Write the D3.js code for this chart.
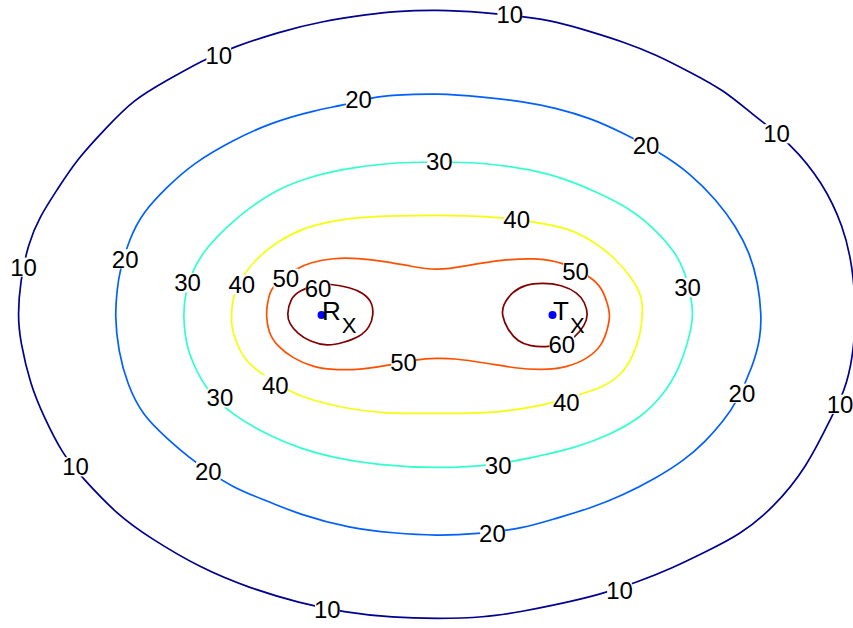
<!DOCTYPE html>
<html>
<head>
<meta charset="utf-8">
<script src="https://cdn.jsdelivr.net/npm/d3@7"></script>
<style>
  html, body { margin: 0; padding: 0; background: #ffffff; }
  svg { display: block; }
</style>
</head>
<body>
<div id="chart"></div>
<script>
// ---- Data (units: distance, Rx at -1, Tx at +1) ----
const levels = [10, 20, 30, 40, 50, 60];

const contour10 = [
  [-3.63,0.00],[-3.61,0.35],[-3.54,0.78],[-3.44,1.07],[-3.29,1.36],[-3.12,1.69],[-2.86,2.04],
  [-2.63,2.34],[-2.34,2.55],[-2.03,2.77],[-1.77,2.91],[-1.36,3.08],[-1.01,3.19],[-0.58,3.27],
  [-0.38,3.30],[0.00,3.32],[0.40,3.29],[0.77,3.24],[1.03,3.19],[1.33,3.08],[1.61,2.97],
  [1.90,2.83],[2.19,2.64],[2.48,2.45],[2.76,2.15],[3.06,1.87],[3.34,1.44],[3.52,0.96],
  [3.60,0.52],[3.63,0.00],[3.60,-0.47],[3.53,-0.83],[3.41,-1.12],[3.20,-1.66],[2.91,-2.10],
  [2.62,-2.39],[2.33,-2.57],[2.04,-2.75],[1.72,-2.91],[1.41,-3.04],[1.03,-3.15],[0.75,-3.22],
  [0.40,-3.29],[0.00,-3.30],[-0.38,-3.29],[-0.81,-3.23],[-1.19,-3.13],[-1.62,-2.97],
  [-2.05,-2.75],[-2.49,-2.42],[-2.77,-2.17],[-3.07,-1.77],[-3.24,-1.52],[-3.41,-1.09],
  [-3.52,-0.76],[-3.61,-0.28]
];
const contour20 = [
  [-2.79,0.00],[-2.77,0.27],[-2.75,0.47],[-2.66,0.84],[-2.55,1.11],[-2.34,1.39],[-2.11,1.65],
  [-1.77,1.90],[-1.42,2.10],[-1.04,2.23],[-0.81,2.28],[-0.55,2.37],[-0.38,2.39],[0.00,2.41],
  [0.40,2.37],[0.75,2.32],[1.03,2.25],[1.33,2.14],[1.61,1.98],[1.94,1.76],[2.19,1.54],
  [2.42,1.25],[2.59,0.96],[2.71,0.67],[2.78,0.35],[2.81,0.00],[2.80,-0.25],[2.74,-0.54],
  [2.59,-0.96],[2.48,-1.15],[2.33,-1.37],[2.13,-1.59],[1.90,-1.77],[1.61,-1.96],[1.33,-2.10],
  [1.03,-2.21],[0.75,-2.32],[0.34,-2.38],[0.00,-2.40],[-0.38,-2.37],[-0.75,-2.32],[-1.19,-2.17],
  [-1.47,-2.02],[-1.77,-1.88],[-2.11,-1.59],[-2.34,-1.34],[-2.55,-1.09],[-2.68,-0.76],[-2.76,-0.39]
];
const contour30 = [
  [-2.20,0.00],[-2.18,0.24],[-2.11,0.51],[-1.99,0.74],[-1.82,0.96],[-1.62,1.17],[-1.39,1.36],
  [-1.13,1.49],[-0.84,1.58],[-0.47,1.65],[0.00,1.67],[0.46,1.65],[0.81,1.58],[1.09,1.49],
  [1.38,1.34],[1.67,1.16],[1.90,0.92],[2.07,0.67],[2.15,0.46],[2.20,0.19],[2.22,0.00],
  [2.19,-0.22],[2.10,-0.58],[1.96,-0.87],[1.76,-1.12],[1.50,-1.30],[1.18,-1.45],[0.89,-1.53],
  [0.53,-1.63],[0.00,-1.67],[-0.52,-1.63],[-0.90,-1.55],[-1.19,-1.45],[-1.47,-1.30],
  [-1.77,-1.09],[-1.99,-0.82],[-2.08,-0.61],[-2.17,-0.36]
];
const contour40 = [
  [-1.78,0.00],[-1.77,0.22],[-1.65,0.49],[-1.53,0.65],[-1.39,0.79],[-1.16,0.95],[-0.87,1.03],
  [-0.64,1.07],[0.00,1.09],[0.50,1.07],[0.85,1.01],[1.13,0.95],[1.37,0.79],[1.54,0.62],
  [1.69,0.40],[1.78,0.19],[1.78,0.00],[1.76,-0.22],[1.70,-0.44],[1.60,-0.65],[1.43,-0.79],
  [1.22,-0.87],[0.94,-0.98],[0.50,-1.07],[0.00,-1.07],[-0.49,-1.07],[-0.81,-1.01],[-1.10,-0.92],
  [-1.27,-0.84],[-1.53,-0.63],[-1.65,-0.51],[-1.73,-0.33],[-1.78,-0.14]
];
const contour50 = [
  [-1.48,0.00],[-1.47,0.11],[-1.45,0.25],[-1.39,0.36],[-1.21,0.51],[-1.10,0.57],[-0.90,0.62],
  [-0.69,0.62],[-0.43,0.58],[-0.23,0.53],[0.00,0.48],[0.27,0.54],[0.56,0.60],[0.85,0.62],
  [1.08,0.58],[1.34,0.41],[1.43,0.29],[1.48,0.11],[1.50,0.00],[1.48,-0.14],[1.43,-0.33],
  [1.31,-0.47],[1.13,-0.57],[0.91,-0.60],[0.68,-0.58],[0.42,-0.52],[0.13,-0.47],[0.00,-0.47],
  [-0.17,-0.48],[-0.43,-0.55],[-0.64,-0.59],[-0.87,-0.60],[-1.07,-0.57],[-1.25,-0.47],
  [-1.39,-0.33],[-1.46,-0.19]
];
const contour60Rx = [
  [-1.30,0.00],[-1.27,0.18],[-1.19,0.27],[-1.04,0.33],[-0.93,0.34],[-0.75,0.30],[-0.64,0.24],
  [-0.56,0.14],[-0.55,0.00],[-0.58,-0.13],[-0.67,-0.24],[-0.81,-0.30],[-0.95,-0.34],
  [-1.10,-0.29],[-1.21,-0.20],[-1.28,-0.09]
];
const contour60Tx = [
  [0.56,0.00],[0.57,0.11],[0.65,0.25],[0.76,0.33],[0.91,0.35],[1.08,0.33],[1.22,0.24],
  [1.28,0.14],[1.31,0.00],[1.28,-0.11],[1.20,-0.24],[1.08,-0.32],[0.94,-0.35],[0.81,-0.34],
  [0.70,-0.29],[0.61,-0.16]
];

// Label positions (data units) for each contour level
const labels10 = [[0.63,3.27],[-1.89,2.82],[-3.58,0.52],[2.94,1.97],[3.49,-0.97],[-3.13,-1.65],[-0.95,-3.20],[1.58,-2.99]];
const labels20 = [[-2.70,0.61],[-0.68,2.34],[1.81,1.84],[2.64,-0.85],[0.48,-2.37],[-1.98,-1.70]];
const labels30 = [[-2.16,0.35],[0.02,1.67],[2.17,0.30],[0.53,-1.63],[-1.88,-0.90]];
const labels40 = [[-1.69,0.33],[-1.40,-0.76],[0.69,1.04],[1.12,-0.95]];
const labels50 = [[-1.31,0.40],[-0.29,-0.52],[1.20,0.47]];
const labels60 = [[-1.03,0.29],[1.08,-0.32]];

// Transmitter / receiver sites
const siteNames = ["R", "T"];
const siteX = [-1, 1];
const siteY = [0, 0];

// ---- Styling / layout ----
const W = 853, H = 628;
const colors = {10: "#00008f", 20: "#0060ff", 30: "#30ffcf", 40: "#f4ff0a", 50: "#ff5000", 60: "#800000"};

const contours = [
  {level: 10, pts: contour10}, {level: 20, pts: contour20}, {level: 30, pts: contour30},
  {level: 40, pts: contour40}, {level: 50, pts: contour50},
  {level: 60, pts: contour60Rx}, {level: 60, pts: contour60Tx}
];
const labelSets = [
  {level: 10, pos: labels10}, {level: 20, pos: labels20}, {level: 30, pos: labels30},
  {level: 40, pos: labels40}, {level: 50, pos: labels50}, {level: 60, pos: labels60}
];

const x = d3.scaleLinear().domain([-3.784, 3.602]).range([0, W]);
const y = d3.scaleLinear().domain([3.424, -3.402]).range([0, H]);

const svg = d3.select("#chart").append("svg")
  .attr("width", W).attr("height", H)
  .attr("viewBox", `0 0 ${W} ${H}`);

svg.append("rect").attr("width", W).attr("height", H).attr("fill", "#fff");

const line = d3.line()
  .x(d => x(d[0])).y(d => y(d[1]))
  .curve(d3.curveBasisClosed);

svg.append("g").selectAll("path")
  .data(contours)
  .join("path")
  .attr("d", d => line(d.pts))
  .attr("fill", "none")
  .attr("stroke", d => colors[d.level])
  .attr("stroke-width", 1.7);

// contour labels (line broken behind them)
const fontSize = 24;
const lab = svg.append("g")
  .attr("font-family", "'Liberation Sans', Arial, Helvetica, sans-serif")
  .attr("font-size", fontSize);

labelSets.forEach(set => {
  set.pos.forEach(p => {
    const g = lab.append("g").attr("transform", `translate(${x(p[0])},${y(p[1])})`);
    const r = g.append("rect").attr("fill", "#fff");
    const t = g.append("text")
      .attr("text-anchor", "middle")
      .attr("dy", "0.36em")
      .attr("fill", "#000")
      .text(set.level);
    const w = t.node().getComputedTextLength();
    r.attr("x", -w / 2 + 1).attr("width", w - 2)
     .attr("y", -fontSize * 0.4).attr("height", fontSize * 0.8);
  });
});

// sites
const sites = siteNames.map((n, i) => ({name: n, x: siteX[i], y: siteY[i]}));
const sg = svg.append("g");
sg.selectAll("circle").data(sites).join("circle")
  .attr("cx", d => x(d.x)).attr("cy", d => y(d.y))
  .attr("r", 4).attr("fill", "#0000ff");

const st = sg.selectAll("text").data(sites).join("text")
  .attr("x", d => x(d.x) + 0.5)
  .attr("y", d => y(d.y) + 5)
  .attr("font-family", "'Liberation Sans', Arial, Helvetica, sans-serif")
  .attr("font-size", 26)
  .attr("fill", "#000");
st.append("tspan").text(d => d.name);
st.append("tspan").attr("dy", 13).attr("dx", 1).attr("font-size", 22).text("X");
</script>
</body>
</html>
